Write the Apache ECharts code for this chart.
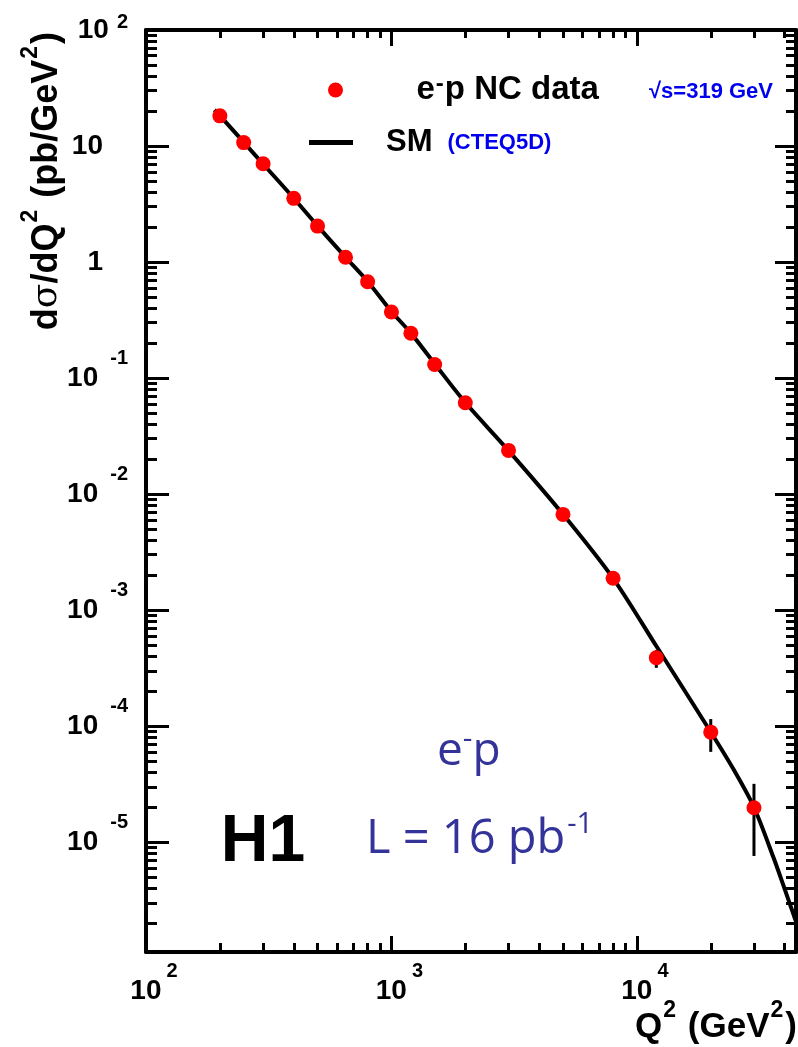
<!DOCTYPE html>
<html>
<head>
<meta charset="utf-8">
<script src="https://cdn.jsdelivr.net/npm/echarts@6/dist/echarts.min.js"></script>
<style>
  html, body { margin: 0; padding: 0; background: #fff; }
  #chart { width: 798px; height: 1047px; }
</style>
</head>
<body>
<div id="chart"></div>
<script>
// Measured e-p NC cross section dσ/dQ² (pb/GeV²)
const q2 = [200, 250, 300, 400, 500, 650, 800, 1000, 1200, 1500, 2000, 3000, 5000, 8000, 12000, 20000, 30000];
const xsec = [18.2, 10.7, 7.03, 3.54, 2.04, 1.10, 0.676, 0.371, 0.243, 0.131, 0.0613, 0.0238, 0.00668, 0.00188, 3.88e-4, 8.87e-5, 1.98e-5];
const errLow = [17.8, 10.5, 6.9, 3.47, 2.0, 1.078, 0.662, 0.363, 0.237, 0.127, 0.0593, 0.0230, 0.0062, 0.00172, 3.18e-4, 6.0e-5, 7.6e-6];
const errHigh = [18.6, 10.9, 7.16, 3.61, 2.08, 1.122, 0.690, 0.379, 0.249, 0.135, 0.0633, 0.0246, 0.0072, 0.00217, 4.52e-4, 1.15e-4, 3.18e-5];

// Standard Model prediction (CTEQ5D)
const smQ2 = [190, 200, 250, 300, 400, 500, 650, 800, 1000, 1200, 1500, 2000, 3000, 5000, 8000, 12000, 20000, 25000, 30000, 36000, 40000, 44500];
const smXsec = [20.5, 18.3, 10.8, 7.0, 3.55, 2.05, 1.10, 0.68, 0.375, 0.244, 0.133, 0.0615, 0.0237, 0.0067, 0.00188, 4.9e-4, 8.9e-5, 4.1e-5, 2.0e-5, 7.4e-6, 3.95e-6, 2.07e-6];

// Axis ranges and tick values
const xMin = 100, xMax = 44500;
const yMin = 1.13e-6, yMax = 100;
const xMajor = [100, 1000, 10000];
const xMinor = [200, 300, 400, 500, 600, 700, 800, 900, 2000, 3000, 4000, 5000, 6000, 7000, 8000, 9000, 20000, 30000, 40000];
const yMajor = [1e-5, 1e-4, 1e-3, 1e-2, 1e-1, 1, 10, 100];
const yMinorMant = [2, 3, 4, 5, 6, 7, 8, 9];
const yDecades = [-6, -5, -4, -3, -2, -1, 0, 1];

const yMinor = [];
yDecades.forEach(k => yMinorMant.forEach(m => {
  const v = parseFloat((m * Math.pow(10, k)).toPrecision(6));
  if (v >= yMin && v <= yMax) yMinor.push(v);
}));

const FONT = 'Liberation Sans, Arial, Helvetica, sans-serif';
const BLUE_TXT = '#333399';

const chart = echarts.init(document.getElementById('chart'), null, { renderer: 'canvas' });

function expOf(v) { return Math.round(Math.log10(v)); }

const xLabelRich = {
  sp: { width: 16, lineHeight: 20 },
  b: { fontSize: 28, fontWeight: 'bold', fontFamily: FONT, color: '#000', lineHeight: 60, verticalAlign: 'middle' },
  e: { fontSize: 20, fontWeight: 'bold', fontFamily: FONT, color: '#000', lineHeight: 20, verticalAlign: 'top', padding: [0, 0, 0, 5] }
};
const yLabelRich = {
  sp: { width: 25, lineHeight: 20 },
  b: { fontSize: 28, fontWeight: 'bold', fontFamily: FONT, color: '#000', lineHeight: 60, verticalAlign: 'middle' },
  e: { fontSize: 20, fontWeight: 'bold', fontFamily: FONT, color: '#000', lineHeight: 20, verticalAlign: 'top', padding: [0, 0, 0, 8] },
  et: { fontSize: 20, fontWeight: 'bold', fontFamily: FONT, color: '#000', lineHeight: 20, verticalAlign: 'top', padding: [12, 0, 0, 8] },
  en: { fontSize: 20, fontWeight: 'bold', fontFamily: FONT, color: '#000', lineHeight: 20, verticalAlign: 'top', padding: [0, 0, 0, 12] }
};

function logAxis(base, extra) {
  return Object.assign({
    type: 'log', logBase: 10, min: base.min, max: base.max,
    splitLine: { show: false }, minorTick: { show: false }, minorSplitLine: { show: false },
    axisLine: { show: true, lineStyle: { color: '#000', width: 4 } },
    axisPointer: { show: false }
  }, extra);
}
const xr = { min: xMin, max: xMax }, yr = { min: yMin, max: yMax };

const xAxes = [
  logAxis(xr, { position: 'bottom',
    axisTick: { show: true, inside: true, length: 16, lineStyle: { color: '#000', width: 3 }, customValues: xMajor },
    axisLabel: { show: true, margin: 9, customValues: xMajor, formatter: v => '{sp| }{b|10}{e|' + expOf(v) + '}', rich: xLabelRich } }),
  logAxis(xr, { position: 'bottom', axisLine: { show: false },
    axisTick: { show: true, inside: true, length: 9, lineStyle: { color: '#000', width: 3 }, customValues: xMinor },
    axisLabel: { show: false } }),
  logAxis(xr, { position: 'top',
    axisTick: { show: true, inside: true, length: 16, lineStyle: { color: '#000', width: 3 }, customValues: xMajor },
    axisLabel: { show: false } }),
  logAxis(xr, { position: 'top', axisLine: { show: false },
    axisTick: { show: true, inside: true, length: 8, lineStyle: { color: '#000', width: 3 }, customValues: xMinor },
    axisLabel: { show: false } })
];

const yAxes = [
  logAxis(yr, { position: 'left',
    axisTick: { show: true, inside: true, length: 23, lineStyle: { color: '#000', width: 3 }, customValues: yMajor },
    axisLabel: { show: true, margin: 18, customValues: yMajor, rich: yLabelRich,
      formatter: v => {
        const e = expOf(v);
        if (e === 0) return '{b|1}{sp| }';
        if (e === 1) return '{b|10}{sp| }';
        if (e === 2) return '{b|10}{et|' + e + '}';
        return '{b|10}{' + (e < 0 ? 'en' : 'e') + '|' + e + '}';
      } } }),
  logAxis(yr, { position: 'left', axisLine: { show: false },
    axisTick: { show: true, inside: true, length: 11, lineStyle: { color: '#000', width: 3 }, customValues: yMinor },
    axisLabel: { show: false } }),
  logAxis(yr, { position: 'right',
    axisTick: { show: true, inside: true, length: 21, lineStyle: { color: '#000', width: 3 }, customValues: yMajor },
    axisLabel: { show: false } }),
  logAxis(yr, { position: 'right', axisLine: { show: false },
    axisTick: { show: true, inside: true, length: 10, lineStyle: { color: '#000', width: 3 }, customValues: yMinor },
    axisLabel: { show: false } })
];

const points = q2.map((q, i) => [q, xsec[i]]);
const bars = q2.map((q, i) => [q, errLow[i], errHigh[i]]);
const smLine = smQ2.map((q, i) => [q, smXsec[i]]);

function titleRich(size) {
  return {
    b: { fontSize: size, fontWeight: 'bold', fontFamily: FONT, fill: '#000', lineHeight: 56, verticalAlign: 'middle' },
    g: { fontSize: size, fontWeight: 'normal', fontFamily: 'DejaVu Serif, serif', fill: '#000', lineHeight: 56, verticalAlign: 'middle' },
    s: { fontSize: Math.round(size * 0.65), fontWeight: 'bold', fontFamily: FONT, fill: '#000', lineHeight: 24, verticalAlign: 'top', padding: [0, 2, 0, 1] }
  };
}

const option = {
  animation: false,
  backgroundColor: '#fff',
  textStyle: { fontFamily: FONT },
  grid: { left: 146, top: 30, width: 650, height: 922, containLabel: false, outerBoundsMode: 'none' },
  xAxis: xAxes,
  yAxis: yAxes,
  legend: [
    {
      data: [{ name: 'data', icon: 'circle' }], left: 328, top: 72, padding: 0,
      itemWidth: 44, itemHeight: 15, selectedMode: false,
      formatter: () => '{sp| }{b|e}{m|-}{b|p NC data}',
      textStyle: { rich: {
        sp: { width: 54, lineHeight: 36 },
        b: { fontSize: 33, fontWeight: 'bold', fontFamily: FONT, color: '#000', lineHeight: 36, verticalAlign: 'middle' },
        m: { fontSize: 24, fontWeight: 'bold', fontFamily: FONT, color: '#000', lineHeight: 22, verticalAlign: 'top', padding: [0, 1, 0, 1] }
      } }
    },
    {
      data: [{ name: 'SM', icon: 'rect' }], left: 309, top: 127, padding: 0,
      itemWidth: 44, itemHeight: 5, selectedMode: false,
      formatter: () => '{sp| }{b|SM}{c|(CTEQ5D)}',
      textStyle: { rich: {
        sp: { width: 28, lineHeight: 36 },
        b: { fontSize: 31, fontWeight: 'bold', fontFamily: FONT, color: '#000', lineHeight: 36, verticalAlign: 'middle' },
        c: { fontSize: 22, fontWeight: 'bold', fontFamily: FONT, color: '#0000ee', lineHeight: 36, verticalAlign: 'middle', padding: [0, 0, 0, 15] }
      } }
    }
  ],
  graphic: [
    { type: 'text', x: 47, y: 32, rotation: Math.PI / 2, silent: true,
      style: { text: '{b|d}{g|σ}{b|/dQ}{s|2}{b| (pb/GeV}{s|2}{b|)}', align: 'right', verticalAlign: 'middle', rich: titleRich(36) } },
    { type: 'text', x: 797, y: 1027, silent: true,
      style: { text: '{b|Q}{s|2}{b| (GeV}{s|2}{b|)}', align: 'right', verticalAlign: 'middle', rich: titleRich(35) } },
    { type: 'text', x: 649, y: 92, silent: true,
      style: { text: '√s=319 GeV', fontSize: 22, fontWeight: 'bold', fontFamily: FONT, fill: '#0000ee', align: 'left', verticalAlign: 'middle' } },
    { type: 'text', x: 263, y: 843, silent: true,
      style: { text: 'H1', fontSize: 66, fontWeight: 'bold', fontFamily: FONT, fill: '#000', align: 'center', verticalAlign: 'middle' } },
    { type: 'text', x: 437, y: 752, silent: true,
      style: { text: '{t|e}{m|-}{t|p}', align: 'left', verticalAlign: 'middle', rich: {
        t: { fontSize: 46, fontFamily: 'Open Sans, sans-serif', fill: BLUE_TXT, lineHeight: 56, verticalAlign: 'middle' },
        m: { fontSize: 30, fontFamily: 'Open Sans, sans-serif', fill: BLUE_TXT, lineHeight: 30, verticalAlign: 'top', padding: [0, 0, 0, 0] }
      } } },
    { type: 'text', x: 366, y: 840, silent: true,
      style: { text: '{t|L = 16 pb}{e|-1}', align: 'left', verticalAlign: 'middle', rich: {
        t: { fontSize: 47, fontFamily: 'Open Sans, sans-serif', fill: BLUE_TXT, lineHeight: 60, verticalAlign: 'middle' },
        e: { fontSize: 29, fontFamily: 'Open Sans, sans-serif', fill: BLUE_TXT, lineHeight: 30, verticalAlign: 'top', padding: [0, 0, 0, 2] }
      } } }
  ],
  series: [
    {
      name: 'SM', type: 'line', data: smLine, xAxisIndex: 0, yAxisIndex: 0,
      symbol: 'none', showSymbol: false, smooth: 0.3, clip: true,
      lineStyle: { color: '#000', width: 4 }, itemStyle: { color: '#000' }, z: 3
    },
    {
      name: 'errors', type: 'custom', data: bars, xAxisIndex: 0, yAxisIndex: 0, z: 4,
      renderItem: (params, api) => {
        const x = api.value(0);
        const p1 = api.coord([x, api.value(1)]);
        const p2 = api.coord([x, api.value(2)]);
        return { type: 'line', shape: { x1: p1[0], y1: p1[1], x2: p2[0], y2: p2[1] },
          style: { stroke: '#000', lineWidth: 3 } };
      },
      encode: { x: 0, y: [1, 2] }
    },
    {
      name: 'data', type: 'scatter', data: points, xAxisIndex: 0, yAxisIndex: 0, z: 5,
      symbol: 'circle', symbolSize: 15, itemStyle: { color: '#ff0000', opacity: 1 }
    }
  ]
};

chart.setOption(option);
</script>
</body>
</html>
